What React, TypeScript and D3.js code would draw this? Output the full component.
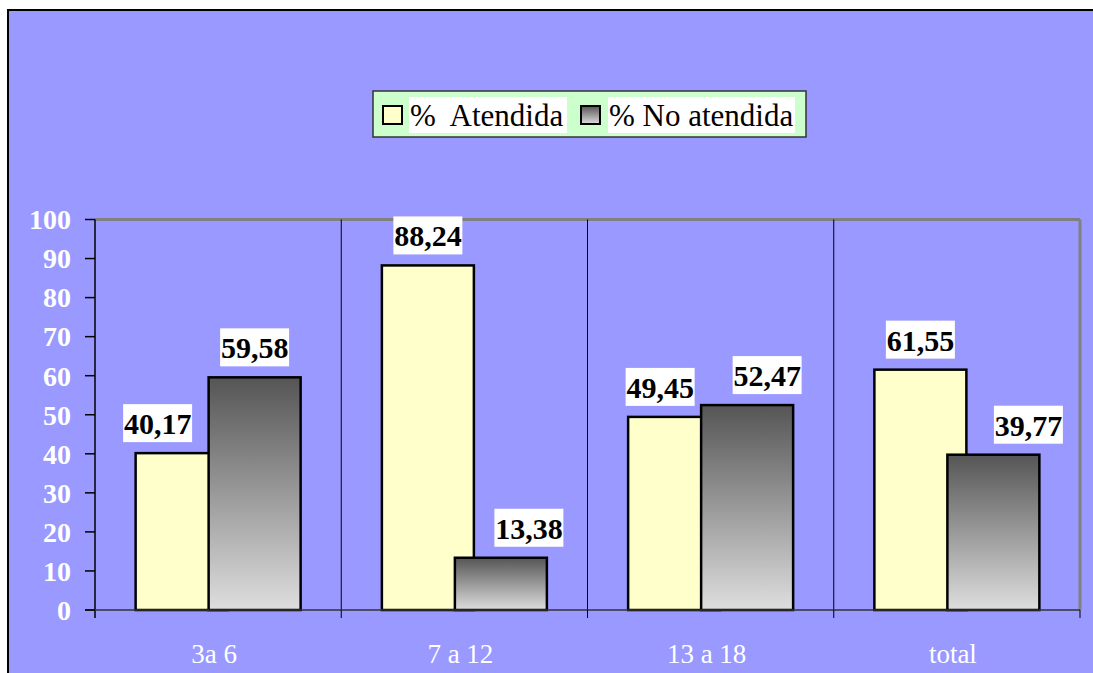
import React from 'react';
import * as d3 from 'd3';

const categories = ['3a 6', '7 a 12', '13 a 18', 'total'];
const atendida = [40.17, 88.24, 49.45, 61.55];
const noAtendida = [59.58, 13.38, 52.47, 39.77];
const yTicks = [0, 10, 20, 30, 40, 50, 60, 70, 80, 90, 100];
const seriesNames = ['%  Atendida', '% No atendida'];

// hand-placed label nudges in the original
const shiftAtendida = [-24, 0, -14, 0];
const shiftNo = [0, 28, 20, 35];

const W = 1093;
const H = 673;
const FONT = '"Liberation Serif", "Times New Roman", serif';

const fmt = (v: number) => v.toFixed(2).replace('.', ',');

const App: React.FC = () => {
  const left = 95;
  const right = 1080;
  const top = 219.5;
  const bottom = 610;

  const x = d3.scaleBand<string>().domain(categories).range([left, right]).padding(0);
  const y = d3.scaleLinear().domain([0, 100]).range([bottom, top]);

  const bw = x.bandwidth();
  const barW = 92;
  const overlap = 19;
  const groupW = 2 * barW - overlap;
  const off = (bw - groupW) / 2;

  const label = (v: number, cx: number, key: string) => {
    const bt = y(v);
    const boxH = 38;
    const boxW = 69;
    const by = bt - 11 - boxH;
    return (
      <g key={key}>
        <rect x={cx - boxW / 2} y={by} width={boxW} height={boxH} fill="#ffffff" />
        <text
          x={cx}
          y={by + boxH - 8}
          textAnchor="middle"
          fontFamily={FONT}
          fontWeight="bold"
          fontSize={30}
          fill="#000"
        >
          {fmt(v)}
        </text>
      </g>
    );
  };

  return (
    <svg
      width={W}
      height={H}
      viewBox={`0 0 ${W} ${H}`}
      style={{ position: 'absolute', left: 0, top: 0 }}
    >
      <defs>
        <linearGradient id="grayGrad" x1="0" y1="0" x2="0" y2="1">
          <stop offset="0%" stopColor="#555555" />
          <stop offset="100%" stopColor="#dedede" />
        </linearGradient>
      </defs>
      <rect x={0} y={0} width={W} height={H} fill="#ffffff" />
      {/* outer chart area */}
      <rect x={8} y={10} width={W + 10} height={H + 10} fill="#9999ff" stroke="#000" strokeWidth={2} />

      {/* legend */}
      <g>
        <rect x={373} y={91} width={433} height={46} fill="#ccffcc" stroke="#333" strokeWidth={1.5} />
        <rect x={383} y={106} width={19} height={18} fill="#ffffcc" stroke="#000" strokeWidth={2} />
        <rect x={409} y={97} width={158} height={36} fill="#fff" />
        <text x={410} y={126} fontFamily={FONT} fontSize={31} fill="#000" style={{ whiteSpace: 'pre' }}>
          {seriesNames[0]}
        </text>
        <rect x={581} y={106} width={19} height={18} fill="url(#grayGrad)" stroke="#000" strokeWidth={2} />
        <rect x={608} y={97} width={187} height={36} fill="#fff" />
        <text x={609} y={126} fontFamily={FONT} fontSize={31} fill="#000" style={{ whiteSpace: 'pre' }}>
          {seriesNames[1]}
        </text>
      </g>

      {/* plot frame */}
      <line x1={left} x2={right} y1={top} y2={top} stroke="#808080" strokeWidth={3} />
      <line x1={right} x2={right} y1={top} y2={bottom} stroke="#808080" strokeWidth={3} />
      {categories.slice(1).map((c) => (
        <line key={c} x1={x(c)!} x2={x(c)!} y1={top} y2={bottom} stroke="#000" strokeWidth={1} />
      ))}

      {/* bars */}
      {categories.map((c, i) => {
        const x0 = x(c)! + off;
        const x1 = x0 + barW - overlap;
        return (
          <g key={c}>
            <rect
              x={x0}
              y={y(atendida[i])}
              width={barW}
              height={bottom - y(atendida[i])}
              fill="#ffffcc"
              stroke="#000"
              strokeWidth={2.5}
            />
            <rect
              x={x1}
              y={y(noAtendida[i])}
              width={barW}
              height={bottom - y(noAtendida[i])}
              fill="url(#grayGrad)"
              stroke="#000"
              strokeWidth={2.5}
            />
          </g>
        );
      })}

      {/* axes */}
      <line x1={left} x2={left} y1={top} y2={bottom + 8} stroke="#000" strokeWidth={1.5} />
      <line x1={left - 10} x2={right} y1={bottom} y2={bottom} stroke="#333" strokeWidth={1.5} />
      {yTicks.map((t) => (
        <g key={t}>
          <line x1={left - 10} x2={left} y1={y(t)} y2={y(t)} stroke="#000" strokeWidth={1.5} />
          <text
            x={71}
            y={y(t)}
            dy="0.35em"
            textAnchor="end"
            fontFamily={FONT}
            fontWeight="bold"
            fontSize={28}
            fill="#ffffff"
          >
            {t}
          </text>
        </g>
      ))}
      {categories.slice(1).concat(['__end']).map((c) => {
        const xx = c === '__end' ? right : x(c)!;
        return <line key={c} x1={xx} x2={xx} y1={bottom} y2={bottom + 8} stroke="#000" strokeWidth={1} />;
      })}
      {categories.map((c) => (
        <text
          key={c}
          x={x(c)! + bw / 2 - 4}
          y={663}
          textAnchor="middle"
          fontFamily={FONT}
          fontSize={27}
          fill="#ffffff"
        >
          {c}
        </text>
      ))}

      {/* value labels */}
      {categories.map((c, i) => {
        const x0 = x(c)! + off;
        const x1 = x0 + barW - overlap;
        return (
          <g key={c}>
            {label(atendida[i], x0 + barW / 2 + shiftAtendida[i], 'a' + i)}
            {label(noAtendida[i], x1 + barW / 2 + shiftNo[i], 'n' + i)}
          </g>
        );
      })}
    </svg>
  );
};

export default App;
